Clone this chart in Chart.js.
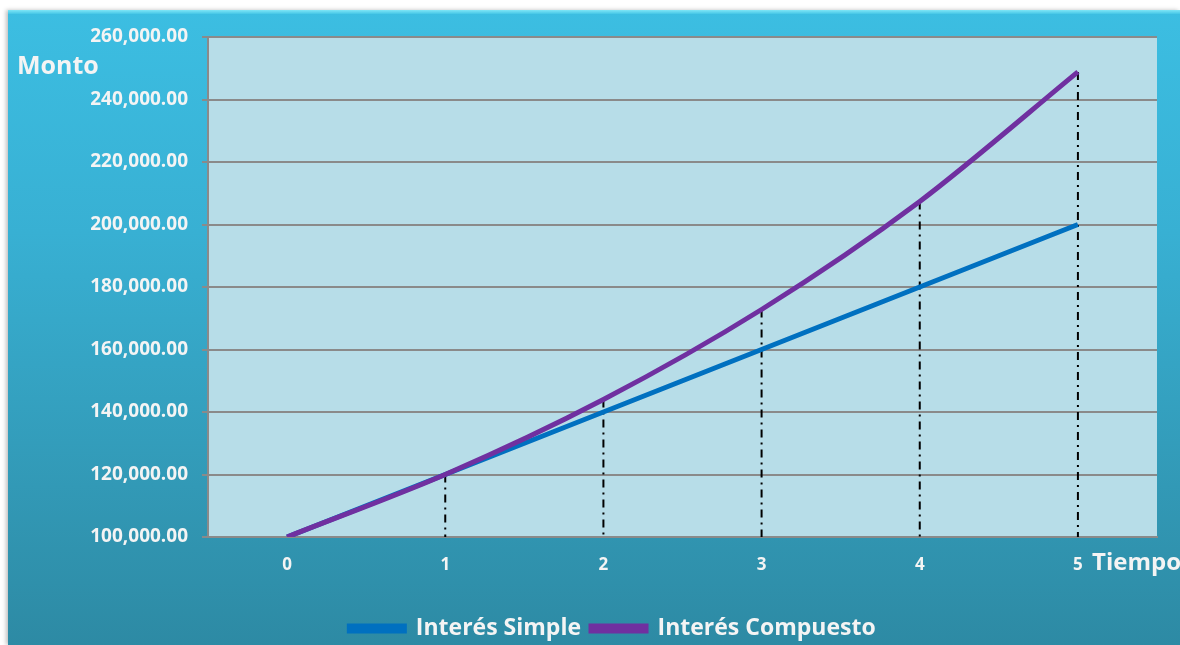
<!DOCTYPE html>
<html>
<head>
<meta charset="utf-8">
<script src="https://cdn.jsdelivr.net/npm/chart.js@4.4.1/dist/chart.umd.min.js"></script>
<style>
  html, body { margin: 0; padding: 0; background: #fff; width: 1180px; height: 645px; overflow: hidden; }
  #box {
    position: absolute; left: 8px; top: 10px; width: 1172px; height: 635px; overflow: hidden;
    background: linear-gradient(to bottom, #3cbee2 0%, #38b0d3 35%, #3299b6 75%, #2d8aa4 100%);
    box-shadow: -2px 0 4px rgba(0,0,0,0.25);
  }
  #box:before {
    content: ''; position: absolute; left: 0; top: 0; right: 0; height: 4px;
    background: linear-gradient(to bottom, #7fe6f7, #45c6e6);
  }
  canvas { position: absolute; left: 0; top: 0; }
</style>
</head>
<body>
<div id="box"><canvas id="c" width="1172" height="640"></canvas></div>
<script>
const periods = ['0', '1', '2', '3', '4', '5'];
const simple = [100000, 120000, 140000, 160000, 180000, 200000];
const compound = [100000, 120000, 144000, 172800, 207360, 248832];
const seriesNames = ['Interés Simple', 'Interés Compuesto'];
const seriesColors = ['#0070c0', '#7030a0'];
const yTitle = 'Monto';
const xTitle = 'Tiempo';

const textColor = '#f4f4f4';
const font = 'Open Sans';

// plot background, drop lines and the axis titles
const extras = {
  id: 'extras',
  afterLayout(chart) {
    // legend sits a bit right of centre in the original
    chart.legend.left += 30;
    chart.legend.right += 30;
  },
  beforeDraw(chart) {
    const {ctx, chartArea: a} = chart;
    ctx.save();
    ctx.fillStyle = '#b7dde8';
    ctx.fillRect(a.left, a.top, a.right - a.left, a.bottom - a.top);
    ctx.restore();
  },
  beforeDatasetsDraw(chart) {
    const {ctx, chartArea: a} = chart;
    const meta = chart.getDatasetMeta(1);
    ctx.save();
    ctx.strokeStyle = '#000';
    ctx.lineWidth = 2;
    ctx.setLineDash([8, 5, 2, 5]);
    meta.data.forEach((p, i) => {
      if (i === 0) return;
      ctx.beginPath();
      ctx.moveTo(p.x, p.y);
      ctx.lineTo(p.x, a.bottom);
      ctx.stroke();
    });
    ctx.restore();
  },
  afterDraw(chart) {
    const {ctx} = chart;
    ctx.save();
    ctx.fillStyle = textColor;
    ctx.textBaseline = 'middle';
    ctx.textAlign = 'left';
    ctx.font = 'bold 25px "' + font + '"';
    ctx.fillText(yTitle, 9, 57);
    ctx.font = 'bold 24px "' + font + '"';
    ctx.fillText(xTitle, 1084, 553);
    ctx.restore();
  }
};

new Chart(document.getElementById('c'), {
  type: 'line',
  data: {
    labels: periods,
    datasets: [
      {
        label: seriesNames[0], data: simple, order: 1,
        borderColor: seriesColors[0], backgroundColor: seriesColors[0],
        borderWidth: 5, pointRadius: 0, tension: 0.3
      },
      {
        label: seriesNames[1], data: compound, order: 0,
        borderColor: seriesColors[1], backgroundColor: seriesColors[1],
        borderWidth: 5, pointRadius: 0, tension: 0.3
      }
    ]
  },
  options: {
    responsive: false,
    animation: false,
    layout: { padding: { left: 0, right: 23, top: 27, bottom: 0 } },
    plugins: {
      tooltip: { enabled: false },
      legend: {
        position: 'bottom',
        labels: {
          boxWidth: 55, boxHeight: 5, padding: 10,
          color: textColor,
          font: { family: font, size: 23, weight: 'bold' },
          sort: (a, b) => a.datasetIndex - b.datasetIndex
        }
      }
    },
    scales: {
      x: {
        offset: true,
        grid: { display: false, tickLength: 0 },
        border: { display: true, color: '#8a8a8a', width: 2 },
        ticks: { color: textColor, padding: 18, font: { family: font, size: 17, weight: 'bold' } },
        afterFit(s) { s.height = 70; }
      },
      y: {
        min: 100000, max: 260000,
        grid: { color: '#8a8a8a', lineWidth: 2, tickLength: 6, drawOnChartArea: true },
        border: { display: true, color: '#8a8a8a', width: 2 },
        ticks: {
          stepSize: 20000, color: textColor, padding: 14,
          font: { family: font, size: 19, weight: 'bold' },
          callback: v => v.toLocaleString('en-US', { minimumFractionDigits: 2, maximumFractionDigits: 2 })
        },
        afterFit(s) { s.width = 200; }
      }
    }
  },
  plugins: [extras]
});
</script>
</body>
</html>
